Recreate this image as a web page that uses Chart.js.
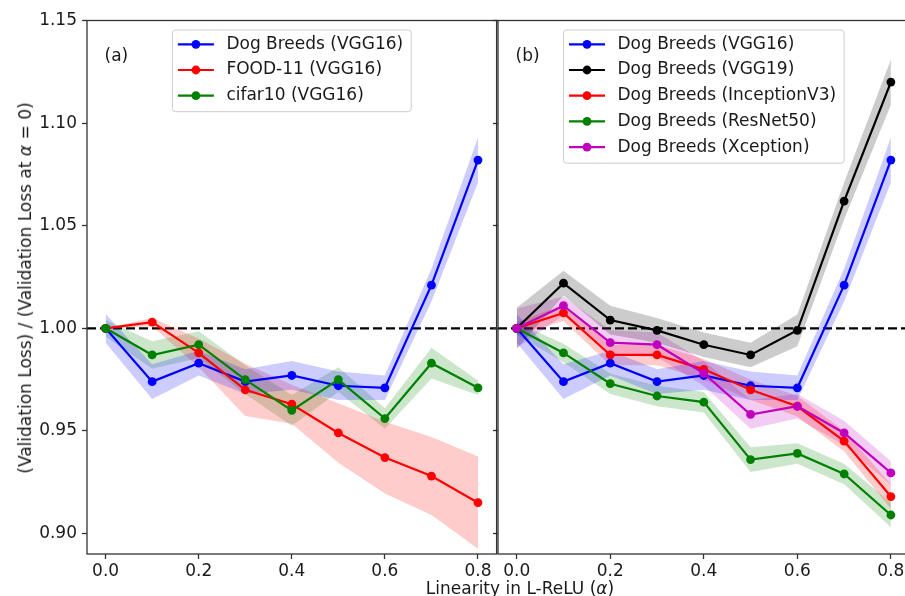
<!DOCTYPE html>
<html>
<head>
<meta charset="utf-8">
<script src="https://cdn.jsdelivr.net/npm/chart.js@4.4.1/dist/chart.umd.min.js"></script>
<style>
    html, body { margin: 0; padding: 0; background: #fff; width: 905px; height: 596px; overflow: hidden; }
    body { position: relative; font-family: "DejaVu Sans", sans-serif; color: #1a1a1a; }
    #chartA { position: absolute; left: 0; top: 0; }
    #chartB { position: absolute; left: 490px; top: 0; }
    .ytitle { position: absolute; left: 25px; top: 288px; transform: translate(-50%, -50%) rotate(-90deg);
              white-space: nowrap; font-size: 17px; line-height: 20px; }
    .xtitle { position: absolute; left: 520px; top: 578px; transform: translateX(-50%);
              white-space: nowrap; font-size: 17px; line-height: 20px; }
</style>
</head>
<body>
<canvas id="chartA" width="501" height="596"></canvas>
<canvas id="chartB" width="424" height="596"></canvas>
<div class="ytitle">(Validation Loss) / (Validation Loss at <i>α</i> = 0)</div>
<div class="xtitle">Linearity in L-ReLU (<i>α</i>)</div>

<script>
// x values (L-ReLU alpha) and axis ticks
const alphas = [0.0, 0.1, 0.2, 0.3, 0.4, 0.5, 0.6, 0.7, 0.8];
const xTicks = [0.0, 0.2, 0.4, 0.6, 0.8];
const yTicks = [0.90, 0.95, 1.00, 1.05, 1.10, 1.15];
const refLevel = 1.0;

// panel (a)
const dogVgg16 = [1.000, 0.974, 0.983, 0.974, 0.977, 0.972, 0.971, 1.021, 1.082];
const dogVgg16Err = [0.007, 0.0085, 0.006, 0.006, 0.007, 0.007, 0.006, 0.008, 0.011];
const food11Vgg16 = [1.000, 1.003, 0.988, 0.970, 0.963, 0.949, 0.937, 0.928, 0.915];
const food11Vgg16Err = [0.000, 0.002, 0.007, 0.0127, 0.0095, 0.0145, 0.0175, 0.019, 0.0225];
const cifar10Vgg16 = [1.000, 0.987, 0.992, 0.975, 0.960, 0.975, 0.956, 0.983, 0.971];
const cifar10Vgg16Err = [0.004, 0.0067, 0.0065, 0.007, 0.0075, 0.006, 0.005, 0.0075, 0.0035];

// panel (b)
const dogVgg19 = [1.000, 1.022, 1.004, 0.999, 0.992, 0.987, 0.999, 1.062, 1.120];
const dogVgg19Err = [0.010, 0.006, 0.007, 0.006, 0.006, 0.006, 0.0077, 0.009, 0.011];
const dogInception = [1.000, 1.0075, 0.987, 0.987, 0.980, 0.970, 0.962, 0.945, 0.918];
const dogInceptionErr = [0.003, 0.004, 0.005, 0.005, 0.005, 0.005, 0.005, 0.005, 0.006];
const dogResnet = [1.000, 0.988, 0.973, 0.967, 0.964, 0.936, 0.939, 0.929, 0.909];
const dogResnetErr = [0.003, 0.0045, 0.005, 0.005, 0.005, 0.006, 0.005, 0.005, 0.006];
const dogXception = [1.000, 1.011, 0.993, 0.992, 0.978, 0.958, 0.962, 0.949, 0.9295];
const dogXceptionErr = [0.0097, 0.0045, 0.006, 0.006, 0.006, 0.007, 0.006, 0.006, 0.0057];

const FONT = '"DejaVu Sans", sans-serif';

function rgba(hex, a) {
    const n = parseInt(hex.slice(1), 16);
    return `rgba(${(n >> 16) & 255},${(n >> 8) & 255},${n & 255},${a})`;
}

// each series = shaded band (upper fills to lower) + line with markers
function series(label, color, values, err, order) {
    const pts = (f) => alphas.map((x, i) => ({ x: x, y: f(i) }));
    return [
        { data: pts(i => values[i] + err[i]), fill: '+1', backgroundColor: rgba(color, 0.2),
          borderWidth: 0, pointRadius: 0, order: 20 },
        { data: pts(i => values[i] - err[i]), fill: false, borderWidth: 0, pointRadius: 0, order: 20 },
        { label: label, isLine: true, data: pts(i => values[i]), borderColor: color, backgroundColor: color,
          borderWidth: 2.2, pointRadius: 4.4, pointBorderWidth: 0, fill: false, order: order }
    ];
}

// frame, dashed reference line, legend box and panel tag
const panelDecor = {
    id: 'panelDecor',
    beforeDatasetsDraw(chart) {
        const { ctx, chartArea: a, scales } = chart;
        const y = scales.y.getPixelForValue(refLevel);
        ctx.save();
        ctx.strokeStyle = '#000';
        ctx.lineWidth = 2.2;
        ctx.setLineDash([9, 4]);
        ctx.beginPath();
        ctx.moveTo(a.left, y);
        ctx.lineTo(a.right, y);
        ctx.stroke();
        ctx.restore();
    },
    afterDraw(chart, args, opts) {
        const { ctx, chartArea: a } = chart;
        ctx.save();
        ctx.strokeStyle = '#333';
        ctx.lineWidth = 1.3;
        ctx.strokeRect(a.left, a.top, a.right - a.left, a.bottom - a.top);

        const items = chart.data.datasets.filter(d => d.isLine);
        ctx.font = '17px ' + FONT;
        const textW = Math.max(...items.map(d => ctx.measureText(d.label).width));
        const rowH = 25.7, padL = 5.5, lineLen = 36, gap = 12.5, padR = 8;
        const w = padL + lineLen + gap + textW + padR;
        const h = 14.3 + rowH * (items.length - 1) + 16;
        const x0 = (a.left + a.right) / 2 - w / 2, y0 = a.top + 9.5;
        ctx.fillStyle = 'rgba(255,255,255,0.8)';
        ctx.strokeStyle = '#cccccc';
        ctx.lineWidth = 1;
        ctx.beginPath();
        if (ctx.roundRect) ctx.roundRect(x0, y0, w, h, 3); else ctx.rect(x0, y0, w, h);
        ctx.fill();
        ctx.stroke();
        items.forEach((d, i) => {
            const y = y0 + 14.3 + i * rowH;
            ctx.strokeStyle = d.borderColor;
            ctx.lineWidth = 2.2;
            ctx.beginPath();
            ctx.moveTo(x0 + padL, y);
            ctx.lineTo(x0 + padL + lineLen, y);
            ctx.stroke();
            ctx.fillStyle = d.borderColor;
            ctx.beginPath();
            ctx.arc(x0 + padL + lineLen / 2, y, 4.4, 0, Math.PI * 2);
            ctx.fill();
            ctx.fillStyle = '#1a1a1a';
            ctx.textAlign = 'left';
            ctx.textBaseline = 'middle';
            ctx.fillText(d.label, x0 + padL + lineLen + gap, y);
        });

        ctx.fillStyle = '#1a1a1a';
        ctx.textAlign = 'left';
        ctx.textBaseline = 'middle';
        ctx.fillText(opts.tag, a.left + 17.5, a.top + 36);
        ctx.restore();
    }
};

function makeChart(id, datasets, tag, yWidth, showYLabels) {
    return new Chart(document.getElementById(id), {
        type: 'line',
        data: { datasets: datasets },
        plugins: [panelDecor],
        options: {
            responsive: false,
            animation: false,
            layout: { padding: { top: 20.5, right: 2, bottom: 0, left: 0 } },
            elements: { line: { tension: 0 } },
            plugins: {
                legend: { display: false },
                tooltip: { enabled: false },
                panelDecor: { tag: tag }
            },
            scales: {
                x: {
                    type: 'linear', min: -0.04, max: 0.84,
                    afterBuildTicks: s => { s.ticks = xTicks.map(v => ({ value: v })); },
                    afterFit: s => { s.height = 42; },
                    border: { display: false },
                    grid: { drawOnChartArea: false, drawTicks: true, tickLength: 5, tickWidth: 1.3, tickColor: '#333' },
                    ticks: { padding: 2, color: '#1a1a1a', font: { family: FONT, size: 17 },
                             maxRotation: 0, callback: v => v.toFixed(1) }
                },
                y: {
                    type: 'linear', min: 0.89, max: 1.15,
                    afterBuildTicks: s => { s.ticks = yTicks.map(v => ({ value: v })); },
                    afterFit: s => { s.width = yWidth; },
                    border: { display: false },
                    grid: { drawOnChartArea: false, drawTicks: true, tickLength: 5, tickWidth: 1.3, tickColor: '#333' },
                    ticks: { display: showYLabels, padding: 5, color: '#1a1a1a', font: { family: FONT, size: 17 },
                             callback: v => v.toFixed(2) }
                }
            }
        }
    });
}

makeChart('chartA', [
    ...series('Dog Breeds (VGG16)', '#0000ff', dogVgg16, dogVgg16Err, 3),
    ...series('FOOD-11 (VGG16)', '#ff0000', food11Vgg16, food11Vgg16Err, 2),
    ...series('cifar10 (VGG16)', '#008000', cifar10Vgg16, cifar10Vgg16Err, 1)
], '(a)', 87, true);

makeChart('chartB', [
    ...series('Dog Breeds (VGG16)', '#0000ff', dogVgg16, dogVgg16Err, 5),
    ...series('Dog Breeds (VGG19)', '#000000', dogVgg19, dogVgg19Err, 4),
    ...series('Dog Breeds (InceptionV3)', '#ff0000', dogInception, dogInceptionErr, 3),
    ...series('Dog Breeds (ResNet50)', '#008000', dogResnet, dogResnetErr, 2),
    ...series('Dog Breeds (Xception)', '#bf00bf', dogXception, dogXceptionErr, 1)
], '(b)', 8, false);
</script>
</body>
</html>
